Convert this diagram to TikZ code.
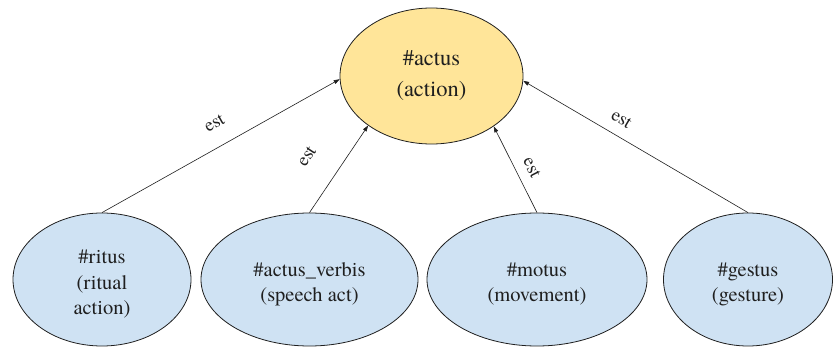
\documentclass[tikz,border=0pt]{standalone}
\usepackage{fontspec}
\setmainfont{TeX Gyre Termes}
\newfontfamily\labelface{TeX Gyre Termes}
\usetikzlibrary{shapes.geometric,arrows.meta}

\definecolor{topfill}{HTML}{FFE599}
\definecolor{subfill}{HTML}{CFE2F3}
\definecolor{ink}{HTML}{1F1F1F}

% tall invisible strut that lowers a text block inside its ellipse
\newcommand{\headroom}{\rule{0pt}{23pt}}

\tikzset{
  concept/.style={ellipse, draw=ink, line width=0.8pt, inner sep=0pt,
    align=center, text=ink},
  topconcept/.style={concept, fill=topfill, minimum width=183pt,
    minimum height=136pt, font=\labelface\fontsize{22.5}{27}\selectfont},
  subconcept/.style={concept, fill=subfill, minimum height=133pt,
    font=\labelface\fontsize{20.5}{24.5}\selectfont},
  isa/.style={draw=ink, line width=0.6pt, -{Triangle[length=6pt,width=4pt]}},
  estlabel/.style={sloped, inner sep=0pt, text=ink,
    font=\labelface\fontsize{18.5}{21}\selectfont}
}

\begin{document}
\begin{tikzpicture}[x=1pt,y=-1pt]
  \useasboundingbox (0,0) rectangle (833,347);

  % parent concept
  \node[topconcept] (actus) at (431.5,76) {\#actus\\[4pt](action)};

  % sub-concepts
  \node[subconcept, minimum width=178pt] (ritus)  at (102,279.5) {\headroom\#ritus\\[1pt](ritual\\[1pt]action)};
  \node[subconcept, minimum width=217pt] (verbis) at (309.5,279.5) {\headroom\#actus\_verbis\\[1pt](speech act)};
  \node[subconcept, minimum width=220pt] (motus)  at (537,279.5) {\headroom\#motus\\[1pt](movement)};
  \node[subconcept, minimum width=169pt] (gestus) at (748,279.5) {\headroom\#gestus\\[1pt](gesture)};

  % "est" relations
  \draw[isa] (ritus.north)  -- node[estlabel, pos=0.52, above=17pt] {est} (actus.182.6);
  \draw[isa] (verbis.north) -- node[estlabel, pos=0.43, above=28pt] {est} (actus.218.5);
  \draw[isa] (motus.north)  -- node[estlabel, pos=0.44, above=10pt] {est} (actus.321.2);
  \draw[isa] (gestus.north) -- node[estlabel, pos=0.60, above=11pt] {est} (actus.357.8);
\end{tikzpicture}
\end{document}
